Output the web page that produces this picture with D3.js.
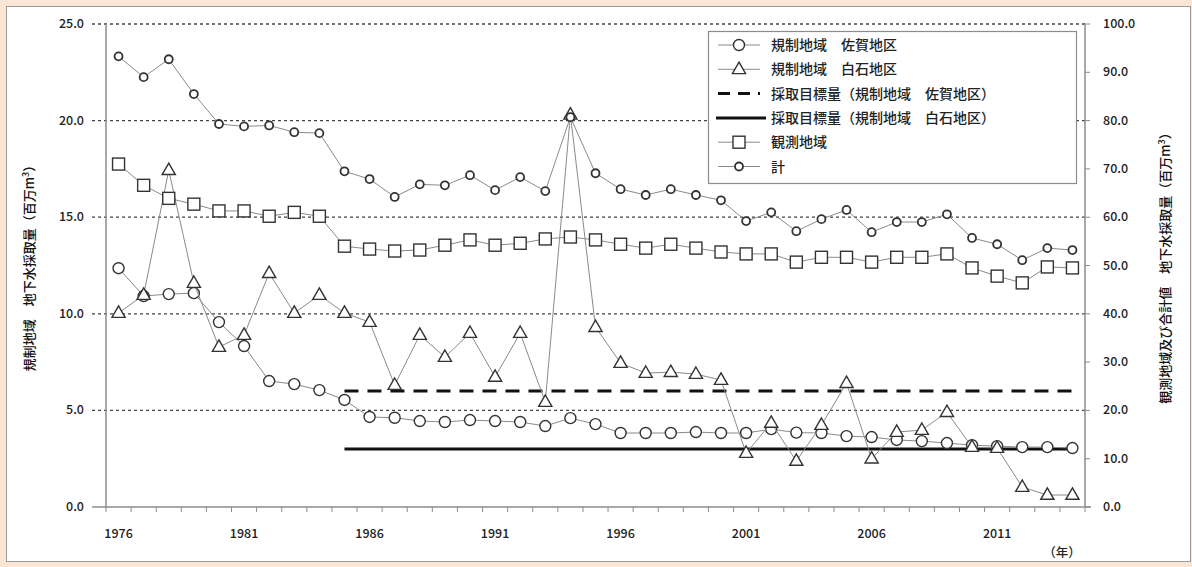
<!DOCTYPE html>
<html>
<head>
<meta charset="utf-8">
<style>
  body { margin: 0; background: #fbe6d6; }
  svg { display: block; font-family: "Noto Sans CJK JP", "Noto Sans", sans-serif; }
</style>
</head>
<body>
<svg width="1192" height="567"></svg>
<script src="https://d3js.org/d3.v7.min.js"></script>
<script>
var years = d3.range(1976, 2015);

// 規制地域 佐賀地区 (left axis)
var saga = [12.36, 10.92, 11.02, 11.07, 9.57, 8.33, 6.52, 6.36, 6.05, 5.54,
            4.66, 4.62, 4.45, 4.40, 4.50, 4.45, 4.40, 4.19, 4.60, 4.29,
            3.83, 3.83, 3.83, 3.88, 3.83, 3.83, 4.03, 3.85, 3.83, 3.67,
            3.62, 3.47, 3.41, 3.31, 3.20, 3.15, 3.10, 3.10, 3.05];
// 規制地域 白石地区 (left axis)
var shiroishi = [10.04, 10.97, 17.43, 11.59, 8.28, 8.90, 12.10, 10.04, 10.97, 10.04,
                 9.57, 6.31, 8.90, 7.76, 9.00, 6.73, 9.00, 5.43, 20.30, 9.31,
                 7.45, 6.93, 6.98, 6.88, 6.57, 2.79, 4.35, 2.38, 4.24, 6.41,
                 2.50, 3.88, 3.98, 4.91, 3.10, 3.05, 1.03, 0.62, 0.62];
// 観測地域 (right axis)
var kansoku = [71.0, 66.6, 63.9, 62.7, 61.3, 61.3, 60.2, 61.0, 60.2, 54.0,
               53.4, 53.0, 53.2, 54.2, 55.3, 54.2, 54.6, 55.5, 55.9, 55.3,
               54.4, 53.6, 54.4, 53.6, 52.8, 52.4, 52.4, 50.7, 51.7, 51.7,
               50.7, 51.7, 51.7, 52.4, 49.5, 47.8, 46.4, 49.7, 49.5];
// 計 (right axis)
var total = [93.3, 89.0, 92.7, 85.5, 79.3, 78.8, 79.0, 77.6, 77.4, 69.5,
             67.9, 64.2, 66.8, 66.6, 68.7, 65.6, 68.3, 65.4, 80.7, 69.1,
             65.8, 64.6, 65.8, 64.6, 63.5, 59.2, 61.0, 57.1, 59.6, 61.5,
             56.9, 59.0, 59.0, 60.6, 55.7, 54.4, 51.1, 53.6, 53.2];
// 採取目標量
var targetYears = [1985, 2014];
var targetSaga = 6.0;
var targetShiroishi = 3.0;

var leftTicks = [0, 5, 10, 15, 20, 25];
var rightTicks = [0, 10, 20, 30, 40, 50, 60, 70, 80, 90, 100];
var yearLabels = [1976, 1981, 1986, 1991, 1996, 2001, 2006, 2011];

var legendNames = ["規制地域　佐賀地区", "規制地域　白石地区",
                   "採取目標量（規制地域　佐賀地区）", "採取目標量（規制地域　白石地区）",
                   "観測地域", "計"];

var svg = d3.select("svg");
var plotL = 106, plotR = 1085, plotT = 24, plotB = 507;

svg.append("rect").attr("x", 6.5).attr("y", 6.5).attr("width", 1184).attr("height", 555)
   .attr("fill", "#fff").attr("stroke", "#9a9a9a").attr("stroke-width", 1);

var x = d3.scaleBand().domain(years).range([plotL, plotR]);
var xc = function(yr) { return x(yr) + x.bandwidth() / 2; };
var yL = d3.scaleLinear().domain([0, 25]).range([plotB, plotT]);
var yR = d3.scaleLinear().domain([0, 100]).range([plotB, plotT]);

// grid lines
svg.append("g").selectAll("line").data(leftTicks.filter(function(d) { return d > 0; }))
  .join("line")
  .attr("x1", 92).attr("x2", plotR)
  .attr("y1", function(d) { return yL(d); }).attr("y2", function(d) { return yL(d); })
  .attr("stroke", "#444").attr("stroke-width", 1.3).attr("stroke-dasharray", "3,3");

// axes lines
var axisCol = "#8c8c8c";
svg.append("line").attr("x1", plotL).attr("x2", plotL).attr("y1", plotT).attr("y2", plotB)
   .attr("stroke", axisCol).attr("stroke-width", 1.5);
svg.append("line").attr("x1", plotR).attr("x2", plotR).attr("y1", plotT).attr("y2", plotB)
   .attr("stroke", axisCol).attr("stroke-width", 1.5);
svg.append("line").attr("x1", 92).attr("x2", plotR + 6).attr("y1", plotB).attr("y2", plotB)
   .attr("stroke", axisCol).attr("stroke-width", 1.5);

// x ticks at category boundaries
var bounds = years.map(function(yr) { return x(yr); }).concat([plotR]);
svg.append("g").selectAll("line").data(bounds).join("line")
  .attr("x1", function(d) { return d; }).attr("x2", function(d) { return d; })
  .attr("y1", plotB).attr("y2", plotB + 5)
  .attr("stroke", axisCol).attr("stroke-width", 1);

// right ticks
svg.append("g").selectAll("line").data(rightTicks).join("line")
  .attr("x1", plotR).attr("x2", plotR + 5)
  .attr("y1", function(d) { return yR(d); }).attr("y2", function(d) { return yR(d); })
  .attr("stroke", axisCol).attr("stroke-width", 1);

var labelStyle = function(sel) {
  sel.attr("font-size", 12.5).attr("fill", "#222").attr("font-weight", 500);
};

svg.append("g").selectAll("text").data(leftTicks).join("text")
  .attr("x", 84).attr("y", function(d) { return yL(d) + 4; })
  .attr("text-anchor", "end").call(labelStyle)
  .text(function(d) { return d.toFixed(1); });

svg.append("g").selectAll("text").data(rightTicks).join("text")
  .attr("x", 1103).attr("y", function(d) { return yR(d) + 4; })
  .attr("text-anchor", "start").call(labelStyle)
  .text(function(d) { return d.toFixed(1); });

svg.append("g").selectAll("text").data(yearLabels).join("text")
  .attr("x", function(d) { return xc(d); }).attr("y", 538)
  .attr("text-anchor", "middle").call(labelStyle)
  .text(function(d) { return d; });

svg.append("text").attr("x", 1062).attr("y", 557).attr("text-anchor", "middle")
   .call(labelStyle).text("（年）");

// axis titles
var lt = svg.append("text").attr("transform", "translate(34,265) rotate(-90)")
   .attr("text-anchor", "middle").attr("font-size", 13).attr("font-weight", 500).attr("fill", "#111");
lt.append("tspan").text("規制地域　地下水採取量（百万m");
lt.append("tspan").attr("dy", -5).attr("font-size", 9).text("3");
lt.append("tspan").attr("dy", 5).text("）");

var rt = svg.append("text").attr("transform", "translate(1170,265) rotate(-90)")
   .attr("text-anchor", "middle").attr("font-size", 13).attr("font-weight", 500).attr("fill", "#111");
rt.append("tspan").text("観測地域及び合計値　地下水採取量（百万m");
rt.append("tspan").attr("dy", -5).attr("font-size", 9).text("3");
rt.append("tspan").attr("dy", 5).text("）");

// markers
var lineCol = "#8a8a8a", mkCol = "#333";
function marker(g, type, cx, cy) {
  if (type === "circle") {
    g.append("circle").attr("cx", cx).attr("cy", cy).attr("r", 5.5)
     .attr("fill", "#fff").attr("stroke", mkCol).attr("stroke-width", 1.4);
  } else if (type === "small") {
    g.append("circle").attr("cx", cx).attr("cy", cy).attr("r", 4)
     .attr("fill", "#fff").attr("stroke", mkCol).attr("stroke-width", 1.8);
  } else if (type === "square") {
    g.append("rect").attr("x", cx - 6).attr("y", cy - 6).attr("width", 12).attr("height", 12)
     .attr("fill", "#fff").attr("stroke", mkCol).attr("stroke-width", 1.4);
  } else if (type === "triangle") {
    g.append("path").attr("d", d3.symbol().type(d3.symbolTriangle).size(75)())
     .attr("transform", "translate(" + cx + "," + (cy + 0.5) + ")")
     .attr("fill", "#fff").attr("stroke", mkCol).attr("stroke-width", 1.4);
  }
}

function drawSeries(values, yScale, type) {
  var g = svg.append("g");
  var line = d3.line().x(function(d, i) { return xc(years[i]); })
                      .y(function(d) { return yScale(d); });
  g.append("path").attr("d", line(values)).attr("fill", "none")
   .attr("stroke", lineCol).attr("stroke-width", 1);
  values.forEach(function(v, i) { marker(g, type, xc(years[i]), yScale(v)); });
}

// target lines
svg.append("line").attr("x1", xc(targetYears[0])).attr("x2", xc(targetYears[1]))
   .attr("y1", yL(targetSaga)).attr("y2", yL(targetSaga))
   .attr("stroke", "#111").attr("stroke-width", 3).attr("stroke-dasharray", "14,9");
svg.append("line").attr("x1", xc(targetYears[0])).attr("x2", xc(targetYears[1]))
   .attr("y1", yL(targetShiroishi)).attr("y2", yL(targetShiroishi))
   .attr("stroke", "#111").attr("stroke-width", 3);

drawSeries(saga, yL, "circle");
drawSeries(shiroishi, yL, "triangle");
drawSeries(kansoku, yR, "square");
drawSeries(total, yR, "small");

// legend
var lg = svg.append("g");
lg.append("rect").attr("x", 708.5).attr("y", 31.5).attr("width", 368).attr("height", 152)
  .attr("fill", "#fff").attr("stroke", "#8c8c8c").attr("stroke-width", 1.2);
var legendTypes = ["circle", "triangle", "dash", "solid", "square", "small"];
legendNames.forEach(function(name, i) {
  var ly = 45 + i * 24.3;
  var t = legendTypes[i];
  if (t === "dash") {
    lg.append("line").attr("x1", 718).attr("x2", 760).attr("y1", ly).attr("y2", ly)
      .attr("stroke", "#111").attr("stroke-width", 3).attr("stroke-dasharray", "12,8");
  } else if (t === "solid") {
    lg.append("line").attr("x1", 716).attr("x2", 766).attr("y1", ly).attr("y2", ly)
      .attr("stroke", "#111").attr("stroke-width", 3);
  } else {
    lg.append("line").attr("x1", 718).attr("x2", 760).attr("y1", ly).attr("y2", ly)
      .attr("stroke", lineCol).attr("stroke-width", 1);
    marker(lg, t, 739, ly);
  }
  lg.append("text").attr("x", 771).attr("y", ly + 5).attr("font-size", 14)
    .attr("font-weight", 500).attr("fill", "#222").text(name);
});
</script>
</body>
</html>
